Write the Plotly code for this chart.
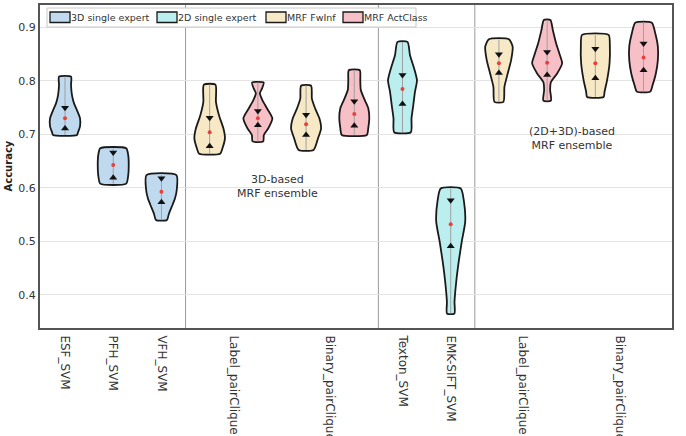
import plotly.graph_objects as go

# ---------------- data ----------------
categories = ["ESF_SVM", "PFH_SVM", "VFH_SVM",
              "Label_pairClique", "Binary_pairClique",
              "Texton_SVM", "EMK-SIFT_SVM",
              "Label_pairClique", "Binary_pairClique"]
tick_positions = [0, 1, 2, 3.5, 5.5, 7, 8, 9.5, 11.5]

groups = ["3D single expert", "2D single expert", "MRF FwInf", "MRF ActClass"]

# one entry per violin, in x order
violin_group = [0, 0, 0, 2, 3, 2, 3, 1, 1, 2, 3, 2, 3]

# accuracy levels (top -> bottom) and relative half-widths of each violin
prof_y = [
    [0.808, 0.792, 0.773, 0.758, 0.745, 0.730, 0.715, 0.704, 0.699],
    [0.674, 0.661, 0.643, 0.624, 0.608],
    [0.624, 0.596, 0.580, 0.568, 0.552, 0.540],
    [0.793, 0.761, 0.736, 0.711, 0.693, 0.674, 0.664],
    [0.797, 0.786, 0.777, 0.764, 0.749, 0.730, 0.711, 0.699, 0.687],
    [0.791, 0.767, 0.749, 0.730, 0.711, 0.693, 0.671],
    [0.820, 0.801, 0.783, 0.764, 0.749, 0.730, 0.712, 0.699],
    [0.873, 0.848, 0.823, 0.801, 0.780, 0.755, 0.730, 0.704],
    [0.599, 0.574, 0.537, 0.499, 0.462, 0.424, 0.387, 0.365],
    [0.878, 0.864, 0.839, 0.814, 0.789, 0.761],
    [0.914, 0.895, 0.870, 0.851, 0.833, 0.814, 0.798, 0.783, 0.763],
    [0.886, 0.864, 0.833, 0.801, 0.780, 0.770],
    [0.909, 0.889, 0.864, 0.839, 0.814, 0.792, 0.780],
]
prof_w = [
    [6, 6, 7, 9, 12, 15, 15, 13, 12],
    [13, 15, 15.5, 15, 13],
    [15, 15.3, 13.5, 11, 7.5, 5.5],
    [5.8, 6.3, 9.3, 13.8, 15.3, 12.8, 10.5],
    [5.8, 4.2, 2, 4.5, 9, 14.5, 10.3, 6, 5.3],
    [5, 5.8, 9, 13.3, 15, 12, 7.5],
    [5.5, 6, 6.5, 10.5, 14, 15, 14, 12.5],
    [5, 7.5, 11.7, 14.5, 12.5, 10.8, 9, 8.3],
    [10, 13.3, 14.5, 11, 8, 5.5, 3.8, 3.7],
    [10, 13.7, 12.2, 8.8, 5.5, 4.5],
    [3.3, 5.7, 9, 12.3, 15, 10, 3.8, 3, 3.8],
    [13.3, 14.5, 14.2, 11.7, 9.2, 8.3],
    [8.3, 11.7, 14.3, 14.3, 12.3, 9, 6.7],
]
q3_vals = [0.750, 0.666, 0.618, 0.731, 0.744, 0.737, 0.762, 0.811, 0.577, 0.850, 0.854, 0.860, 0.870]
med_vals = [0.730, 0.643, 0.593, 0.704, 0.730, 0.719, 0.738, 0.785, 0.532, 0.833, 0.834, 0.833, 0.844]
q1_vals = [0.711, 0.619, 0.573, 0.678, 0.717, 0.699, 0.716, 0.757, 0.491, 0.815, 0.811, 0.805, 0.820]

# ---------------- styles / layout ----------------
colors = ["#bfd9ee", "#bbeeee", "#f7e9c6", "#f7c0c6"]
WSCALE = 1 / 48.2
FONT = "DejaVu Sans"
W, H = 686, 436
ML, MR, MT, MB = 40, 14, 5, 108
PW, PH = W - ML - MR, H - MT - MB


def px_x(p):
    return (p - ML) / PW


def px_y(p):
    return (H - MB - p) / PH


fig = go.Figure()

for i, (ys, ws) in enumerate(zip(prof_y, prof_w)):
    g = violin_group[i]
    xc = i
    right_x = [xc + w * WSCALE for w in ws]
    left_x = [xc - w * WSCALE for w in reversed(ws)]
    xs = right_x + left_x + [right_x[0]]
    yy = list(ys) + list(reversed(ys)) + [ys[0]]
    fig.add_trace(go.Scatter(
        x=xs, y=yy, mode="lines", fill="toself", fillcolor=colors[g],
        line=dict(color="#1a1a1a", width=1.8, shape="spline", smoothing=0.6),
        name=groups[g], showlegend=False, hoverinfo="skip"))
    fig.add_trace(go.Scatter(
        x=[xc, xc], y=[ys[0], ys[-1]], mode="lines",
        line=dict(color="#a0a0a0", width=1), showlegend=False, hoverinfo="skip"))

x_idx = list(range(len(prof_y)))
fig.add_trace(go.Scatter(x=x_idx, y=q3_vals, mode="markers",
                         marker=dict(symbol="triangle-down", size=7, color="#111111"),
                         showlegend=False))
fig.add_trace(go.Scatter(x=x_idx, y=q1_vals, mode="markers",
                         marker=dict(symbol="triangle-up", size=7, color="#111111"),
                         showlegend=False))
fig.add_trace(go.Scatter(x=x_idx, y=med_vals, mode="markers",
                         marker=dict(symbol="circle", size=4, color="#e8403a"),
                         showlegend=False))

for xs_ in [2.5, 6.5, 8.5]:
    fig.add_shape(type="line", x0=xs_, x1=xs_, y0=0, y1=1, yref="paper",
                  line=dict(color="#9a9a9a", width=1), layer="below")

# legend (drawn as a compact matplotlib-style box)
fig.add_shape(type="rect", xref="paper", yref="paper",
              x0=px_x(47), x1=px_x(416), y0=px_y(27), y1=px_y(8),
              fillcolor="white", line=dict(color="#c8c8c8", width=1))
legend_left = [50, 157, 266, 343]
for g, name in enumerate(groups):
    x0 = legend_left[g]
    fig.add_shape(type="rect", xref="paper", yref="paper",
                  x0=px_x(x0), x1=px_x(x0 + 20), y0=px_y(22.5), y1=px_y(12),
                  fillcolor=colors[g], line=dict(color="#1a1a1a", width=1.3))
    fig.add_annotation(xref="paper", yref="paper", x=px_x(x0 + 20), y=px_y(17.5),
                       xanchor="left", yanchor="middle", text=name, showarrow=False,
                       borderpad=0, font=dict(family=FONT, size=9.5, color="#333333"))

fig.add_annotation(x=4.4, y=0.603, text="3D-based<br>MRF ensemble", showarrow=False,
                   font=dict(family=FONT, size=11, color="#333333"))
fig.add_annotation(x=10.52, y=0.693, text="(2D+3D)-based<br>MRF ensemble", showarrow=False,
                   font=dict(family=FONT, size=11, color="#333333"))
fig.add_annotation(xref="paper", yref="paper", x=px_x(8), y=0.5, text="<b>Accuracy</b>",
                   textangle=-90, showarrow=False, xanchor="center",
                   font=dict(family=FONT, size=10, color="#222222"))

fig.update_layout(
    width=W, height=H,
    margin=dict(l=ML, r=MR, t=MT, b=MB),
    paper_bgcolor="white", plot_bgcolor="white",
    font=dict(family=FONT, size=11, color="#333333"),
    showlegend=False,
)
fig.update_xaxes(range=[-0.519, 12.59], tickmode="array", tickvals=tick_positions,
                 ticktext=categories, tickangle=90, showgrid=False, zeroline=False,
                 showline=True, linecolor="#555555", linewidth=2, mirror=True,
                 ticks="", automargin=False, ticklabelstandoff=3,
                 tickfont=dict(family=FONT, size=12, color="#333333"))
fig.update_yaxes(range=[0.338, 0.942], tickvals=[0.4, 0.5, 0.6, 0.7, 0.8, 0.9],
                 ticktext=["0.4", "0.5", "0.6", "0.7", "0.8", "0.9"],
                 showgrid=True, gridcolor="#e3e3e3", gridwidth=1, zeroline=False,
                 showline=True, linecolor="#555555", linewidth=2, mirror=True,
                 ticks="", automargin=False,
                 tickfont=dict(family=FONT, size=11, color="#333333"))

fig.write_html("out.html")
